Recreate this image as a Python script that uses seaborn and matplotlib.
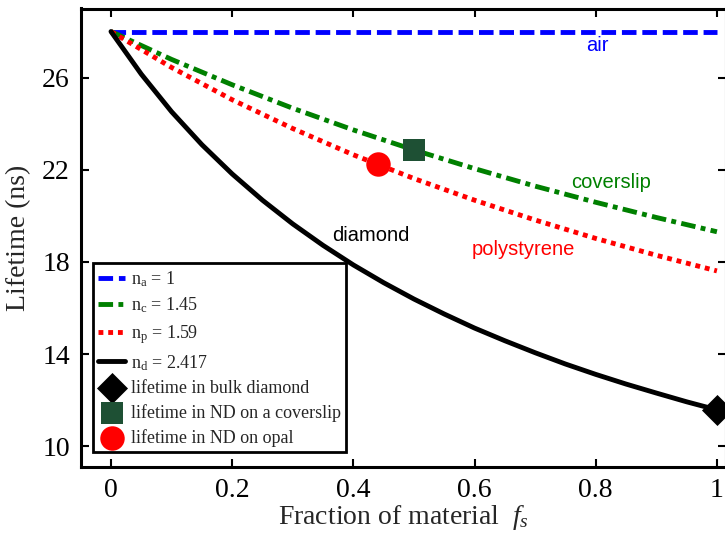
import matplotlib
matplotlib.use("Agg")
import matplotlib.pyplot as plt
import seaborn as sns
import pandas as pd

# values
frac_coarse = [0.0, 0.1, 0.2, 0.3, 0.4, 0.5, 0.6, 0.7, 0.8, 0.9, 1.0]
frac_fine = [0.0, 0.05, 0.1, 0.15, 0.2, 0.25, 0.3, 0.35, 0.4, 0.45, 0.5,
             0.55, 0.6, 0.65, 0.7, 0.75, 0.8, 0.85, 0.9, 0.95, 1.0]
tau_air = [28.0, 28.0, 28.0, 28.0, 28.0, 28.0, 28.0, 28.0, 28.0, 28.0, 28.0]
tau_coverslip = [28.0, 26.79, 25.69, 24.67, 23.73, 22.86, 22.05, 21.29, 20.59, 19.93, 19.31]
tau_polystyrene = [28.0, 26.44, 25.04, 23.79, 22.65, 21.62, 20.68, 19.82, 19.02, 18.29, 17.61]
tau_diamond = [28.0, 26.15, 24.52, 23.09, 21.82, 20.68, 19.65, 18.72, 17.87, 17.10, 16.39,
               15.74, 15.13, 14.58, 14.06, 13.57, 13.12, 12.70, 12.31, 11.93, 11.58]

meas_x = [1.0, 0.5, 0.44]
meas_y = [11.58, 22.86, 22.25]
meas_labels = ["lifetime in bulk diamond", "lifetime in ND on a coverslip", "lifetime in ND on opal"]

legend_labels = [r"$\mathregular{n_a}$ = 1", r"$\mathregular{n_c}$ = 1.45",
                 r"$\mathregular{n_p}$ = 1.59", r"$\mathregular{n_d}$ = 2.417"]

sns.set_theme(style="ticks")
plt.rcParams["font.family"] = ["Liberation Serif", "DejaVu Serif"]
plt.rcParams["mathtext.fontset"] = "custom"
plt.rcParams["mathtext.rm"] = "Liberation Serif"
plt.rcParams["mathtext.it"] = "Liberation Serif:italic"

fig = plt.figure(figsize=(7.25, 5.4), dpi=100)
ax = fig.add_axes([81 / 725, 1 - 467 / 540, 645 / 725, 458.5 / 540])

lw = 3.5
df_c = pd.DataFrame({"f": frac_coarse, "air": tau_air, "cov": tau_coverslip, "poly": tau_polystyrene})
df_d = pd.DataFrame({"f": frac_fine, "dia": tau_diamond})

sns.lineplot(data=df_c, x="f", y="air", ax=ax, color="#0000FF", lw=lw,
             linestyle=(0, (3, 1.2)), label=legend_labels[0])
sns.lineplot(data=df_c, x="f", y="cov", ax=ax, color="#008000", lw=lw,
             linestyle=(0, (3, 1.1, 1, 1.1)), label=legend_labels[1])
sns.lineplot(data=df_c, x="f", y="poly", ax=ax, color="#FF0000", lw=lw,
             linestyle=(0, (1, 1)), label=legend_labels[2])
sns.lineplot(data=df_d, x="f", y="dia", ax=ax, color="black", lw=lw,
             linestyle="-", label=legend_labels[3])

marker_styles = [("D", "black", 250), ("s", "#1E5034", 260), ("o", "#FF0000", 310)]
for (mk, col, sz), xv, yv, lab in zip(marker_styles, meas_x, meas_y, meas_labels):
    sns.scatterplot(x=[xv], y=[yv], ax=ax, marker=mk, color=col, s=sz,
                    edgecolor=col, linewidth=0, label=lab, zorder=5, clip_on=False)

# inline labels
lab_font = dict(family="Liberation Sans", fontsize=14.5, ha="center", va="center")
ax.text(0.803, 27.39, "air", color="#0000FF", **lab_font)
ax.text(0.826, 21.45, "coverslip", color="#008000", **lab_font)
ax.text(0.680, 18.55, "polystyrene", color="#FF0000", **lab_font)
ax.text(0.429, 19.13, "diamond", color="black", **lab_font)

ax.set_xlim(-0.0495, 1.015)
ax.set_ylim(9.1, 29.0)
ax.set_xticks([0, 0.2, 0.4, 0.6, 0.8, 1])
ax.set_xticklabels(["0", "0.2", "0.4", "0.6", "0.8", "1"])
ax.set_yticks([10, 14, 18, 22, 26])
ax.tick_params(direction="in", length=6, width=1.5, labelsize=20, colors="black",
               top=True, right=True, pad=8)
for sp in ax.spines.values():
    sp.set_linewidth(2.2)
    sp.set_color("black")

ax.set_xlabel(r"Fraction of material  $f_s$", fontsize=20, labelpad=0)
ax.set_ylabel("Lifetime (ns)", fontsize=20, labelpad=8)

leg = ax.legend(loc="upper left", bbox_to_anchor=(0.018, 0.444), borderaxespad=0,
                fontsize=13, frameon=True, fancybox=False, edgecolor="black",
                handlelength=1.5, handletextpad=0.3, borderpad=0.3, labelspacing=0.4,
                framealpha=1)
leg.get_frame().set_linewidth(2)

fig.savefig("out.png", dpi=100)
